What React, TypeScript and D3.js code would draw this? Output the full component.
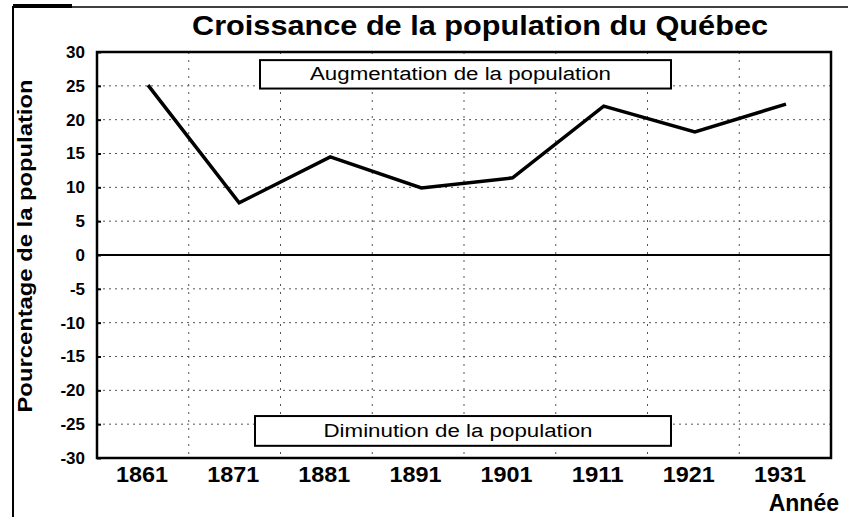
import { useEffect, useRef } from 'react';
import * as d3 from 'd3';

const years = ['1861', '1871', '1881', '1891', '1901', '1911', '1921', '1931'];
const growth = [25.1, 7.7, 14.5, 9.9, 11.4, 22.0, 18.2, 22.3];
const yTicks = [30, 25, 20, 15, 10, 5, 0, -5, -10, -15, -20, -25, -30];

export default function App() {
  const containerRef = useRef<HTMLDivElement>(null);

  useEffect(() => {
    if (!containerRef.current) return;
    d3.select(containerRef.current).selectAll('*').remove();

    const width = 848;
    const height = 517;
    const margin = { top: 52, right: 17, bottom: 59, left: 97 };
    const innerWidth = width - margin.left - margin.right;
    const innerHeight = height - margin.top - margin.bottom;
    const font = 'Arial, "Liberation Sans", sans-serif';

    const svg = d3
      .select(containerRef.current)
      .append('svg')
      .attr('width', width)
      .attr('height', height)
      .style('display', 'block')
      .style('background', '#fff');

    // outer frame (scanned page edge)
    svg.append('line').attr('x1', 13).attr('x2', 13).attr('y1', 6).attr('y2', 517)
      .attr('stroke', '#000').attr('stroke-width', 2);
    svg.append('line').attr('x1', 13).attr('x2', 848).attr('y1', 7).attr('y2', 7)
      .attr('stroke', '#000').attr('stroke-width', 1.5);
    svg.append('line').attr('x1', 13).attr('x2', 72).attr('y1', 6).attr('y2', 6)
      .attr('stroke', '#000').attr('stroke-width', 4);

    const g = svg.append('g').attr('transform', `translate(${margin.left},${margin.top})`);

    // points sit slightly right of the band centres
    const xScale = d3.scalePoint().domain(years).range([51, innerWidth - 45]);
    const yScale = d3.scaleLinear().domain([-30, 30]).range([innerHeight, 0]);

    // horizontal dotted grid
    g.append('g')
      .selectAll('line')
      .data(yTicks.filter((t) => t !== 0 && t !== 30 && t !== -30))
      .join('line')
      .attr('x1', 0)
      .attr('x2', innerWidth)
      .attr('y1', (d) => yScale(d))
      .attr('y2', (d) => yScale(d))
      .attr('stroke', '#555')
      .attr('stroke-width', 1)
      .attr('stroke-dasharray', '2,4');

    // vertical dotted grid
    const vStep = innerWidth / 8;
    g.append('g')
      .selectAll('line')
      .data(d3.range(1, 8))
      .join('line')
      .attr('x1', (d) => d * vStep)
      .attr('x2', (d) => d * vStep)
      .attr('y1', 0)
      .attr('y2', innerHeight)
      .attr('stroke', '#555')
      .attr('stroke-width', 1)
      .attr('stroke-dasharray', '2,6');

    // zero line
    g.append('line')
      .attr('x1', 0)
      .attr('x2', innerWidth)
      .attr('y1', yScale(0))
      .attr('y2', yScale(0))
      .attr('stroke', '#000')
      .attr('stroke-width', 2);

    // plot frame
    g.append('rect')
      .attr('width', innerWidth)
      .attr('height', innerHeight)
      .attr('fill', 'none')
      .attr('stroke', '#000')
      .attr('stroke-width', 2.5);

    // annotation boxes
    const boxes = [
      { text: 'Augmentation de la population', top: 28.8, bottom: 24.6, x0: 163, len: 301 },
      { text: 'Diminution de la population', top: -23.8, bottom: -28.2, x0: 158, len: 269 },
    ];
    boxes.forEach((b) => {
      const x1 = 574;
      g.append('rect')
        .attr('x', b.x0)
        .attr('y', yScale(b.top))
        .attr('width', x1 - b.x0)
        .attr('height', yScale(b.bottom) - yScale(b.top))
        .attr('fill', '#fff')
        .attr('stroke', '#000')
        .attr('stroke-width', 2);
      g.append('text')
        .attr('x', (b.x0 + x1) / 2 - 5)
        .attr('y', (yScale(b.top) + yScale(b.bottom)) / 2 + 6)
        .attr('text-anchor', 'middle')
        .attr('font-family', font)
        .attr('font-size', '18px')
        .attr('textLength', b.len)
        .attr('lengthAdjust', 'spacingAndGlyphs')
        .attr('fill', '#000')
        .text(b.text);
    });

    // y axis
    const yAxis = g.append('g').call(
      d3.axisLeft(yScale).tickValues(yTicks).tickSize(8).tickPadding(4).tickFormat((d) => `${d}`)
    );
    yAxis.select('.domain').remove();
    yAxis.selectAll('line').attr('x2', 4).attr('stroke', '#000').attr('stroke-width', 2);
    yAxis
      .selectAll('text')
      .attr('font-family', font)
      .attr('font-size', '17px')
      .attr('font-weight', 'bold')
      .attr('fill', '#000');

    // x labels
    g.append('g')
      .selectAll('text')
      .data(years)
      .join('text')
      .attr('x', (d) => xScale(d)! - 6)
      .attr('y', innerHeight + 24)
      .attr('text-anchor', 'middle')
      .attr('font-family', font)
      .attr('font-size', '22px')
      .attr('font-weight', 'bold')
      .attr('textLength', 52)
      .attr('lengthAdjust', 'spacingAndGlyphs')
      .attr('fill', '#000')
      .text((d) => d);

    // data line
    const line = d3
      .line<number>()
      .x((_, i) => xScale(years[i])!)
      .y((d) => yScale(d));

    g.append('path')
      .datum(growth)
      .attr('d', line)
      .attr('fill', 'none')
      .attr('stroke', '#000')
      .attr('stroke-width', 3.5)
      .attr('stroke-linejoin', 'miter');

    // title
    svg.append('text')
      .attr('x', 480)
      .attr('y', 35)
      .attr('text-anchor', 'middle')
      .attr('font-family', font)
      .attr('font-size', '28px')
      .attr('font-weight', 'bold')
      .attr('textLength', 576)
      .attr('lengthAdjust', 'spacingAndGlyphs')
      .attr('fill', '#000')
      .text('Croissance de la population du Québec');

    // y title
    svg.append('text')
      .attr('transform', 'translate(32,246) rotate(-90)')
      .attr('text-anchor', 'middle')
      .attr('font-family', font)
      .attr('font-size', '21px')
      .attr('font-weight', 'bold')
      .attr('textLength', 333)
      .attr('lengthAdjust', 'spacingAndGlyphs')
      .attr('fill', '#000')
      .text('Pourcentage de la population');

    // x title
    svg.append('text')
      .attr('x', 839)
      .attr('y', 511)
      .attr('text-anchor', 'end')
      .attr('font-family', font)
      .attr('font-size', '23px')
      .attr('font-weight', 'bold')
      .attr('fill', '#000')
      .text('Année');
  }, []);

  return <div ref={containerRef} style={{ position: 'absolute', left: 0, top: 0 }}></div>;
}
